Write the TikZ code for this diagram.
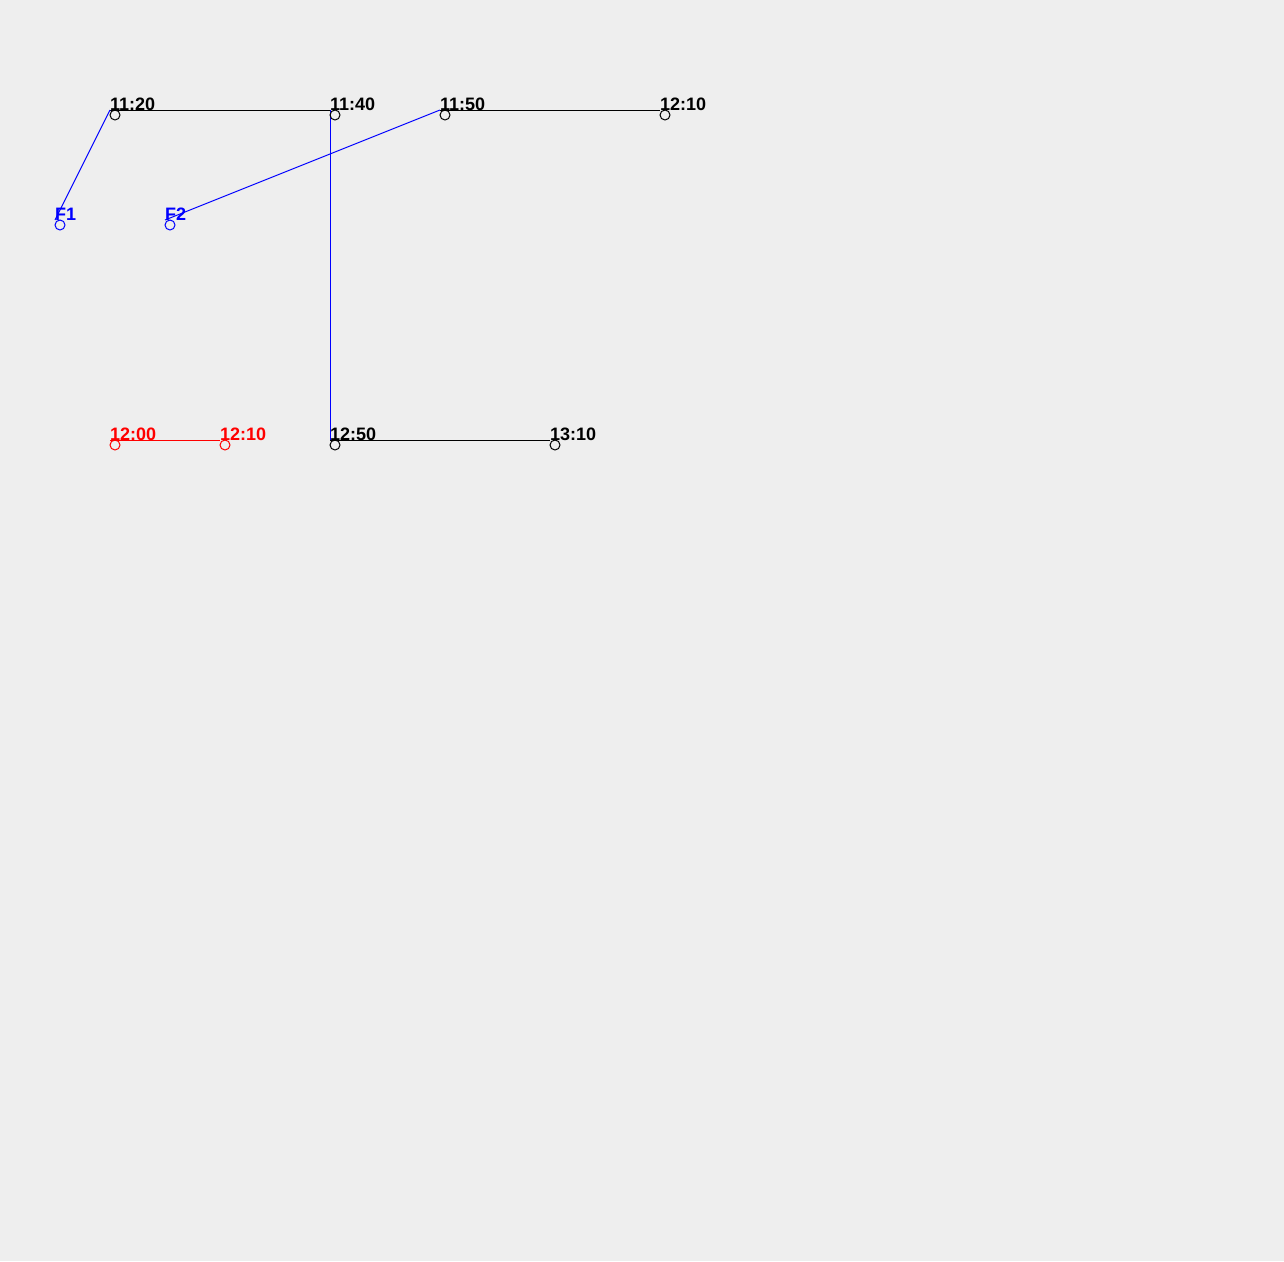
\documentclass[tikz,border=0pt]{standalone}
\usepackage{fontspec}
\setmainfont{Liberation Sans}
\definecolor{bggrey}{RGB}{238,238,238}
\definecolor{flblue}{RGB}{0,0,255}
\definecolor{flred}{RGB}{255,0,0}

\begin{document}
\begin{tikzpicture}[x=1pt, y=-1pt,
    stop/.style={circle, draw, line width=1pt, inner sep=0pt, minimum size=10pt},
    tlbl/.style={anchor=base west, inner sep=0pt, font=\fontsize{18}{18}\selectfont\bfseries},
    leg/.style={line width=1pt}
  ]
    % Background and page size
    \fill[bggrey] (0,0) rectangle (1284,1261);
    \useasboundingbox (0,0) rectangle (1284,1261);

    % Points
    \coordinate (f1)    at (55,220);
    \coordinate (f2)    at (165,220);
    \coordinate (t1120) at (110,110);
    \coordinate (t1140) at (330,110);
    \coordinate (t1150) at (440,110);
    \coordinate (t1210) at (660,110);
    \coordinate (b1200) at (110,440);
    \coordinate (b1210) at (220,440);
    \coordinate (b1250) at (330,440);
    \coordinate (b1310) at (550,440);

    % Legs
    \draw[leg, black] (t1120) -- (t1140);
    \draw[leg, black] (t1150) -- (t1210);
    \draw[leg, black] (b1250) -- (b1310);
    \draw[leg, flred] (b1200) -- (b1210);
    \draw[leg, flblue] (f1) -- (t1120);
    \draw[leg, flblue] (f2) -- (t1150);
    \draw[leg, flblue] (t1140) -- (b1250);

    % Stops
    \node[stop, draw=flblue] (f1c)    at ([shift={(5,5)}]f1) {};
    \node[stop, draw=flblue] (f2c)    at ([shift={(5,5)}]f2) {};
    \node[stop]              (t1120c) at ([shift={(5,5)}]t1120) {};
    \node[stop]              (t1140c) at ([shift={(5,5)}]t1140) {};
    \node[stop]              (t1150c) at ([shift={(5,5)}]t1150) {};
    \node[stop]              (t1210c) at ([shift={(5,5)}]t1210) {};
    \node[stop, draw=flred]  (b1200c) at ([shift={(5,5)}]b1200) {};
    \node[stop, draw=flred]  (b1210c) at ([shift={(5,5)}]b1210) {};
    \node[stop]              (b1250c) at ([shift={(5,5)}]b1250) {};
    \node[stop]              (b1310c) at ([shift={(5,5)}]b1310) {};

    % Labels
    \node[tlbl, text=flblue] (f1l)    at (f1)    {F1};
    \node[tlbl, text=flblue] (f2l)    at (f2)    {F2};
    \node[tlbl]              (t1120l) at (t1120) {11:20};
    \node[tlbl]              (t1140l) at (t1140) {11:40};
    \node[tlbl]              (t1150l) at (t1150) {11:50};
    \node[tlbl]              (t1210l) at (t1210) {12:10};
    \node[tlbl, text=flred]  (b1200l) at (b1200) {12:00};
    \node[tlbl, text=flred]  (b1210l) at (b1210) {12:10};
    \node[tlbl]              (b1250l) at (b1250) {12:50};
    \node[tlbl]              (b1310l) at (b1310) {13:10};
  \end{tikzpicture}
\end{document}
